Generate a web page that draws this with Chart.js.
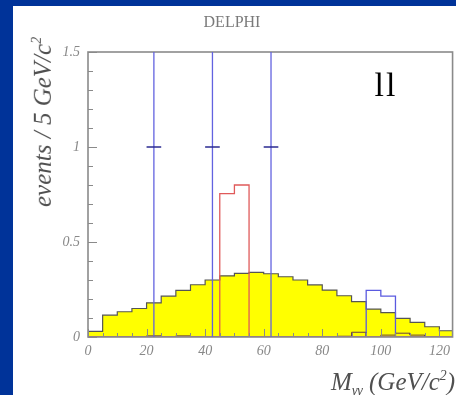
<!DOCTYPE html>
<html>
<head>
<meta charset="utf-8">
<script src="https://cdn.jsdelivr.net/npm/chart.js@4"></script>
<style>
  html, body { margin:0; padding:0; }
  body { background:#003399; width:456px; height:395px; overflow:hidden; position:relative; }
  #panel { position:absolute; left:13px; top:6px; width:443px; height:389px; background:#fff; }
  #c { position:absolute; left:0; top:0; }
  .t { position:absolute; white-space:nowrap; font-family:"Liberation Serif","DejaVu Serif",serif; }
  #delphi { left:219px; top:7px; transform:translateX(-50%); font-size:16px; color:#7a7a7a; line-height:18px; }
  #ll { left:373px; top:62px; transform:translateX(-50%); font-size:34px; color:#000; line-height:34px; letter-spacing:2px; }
  #ytitle { left:27px; top:116px; transform:translate(-50%,-50%) rotate(-90deg); font-size:25px; font-style:italic; color:#505050; line-height:28px; }
  #xtitle { right:1px; top:357px; font-size:25px; font-style:italic; color:#505050; line-height:26px; }
  sup { font-size:0.55em; vertical-align:0.75em; }
  sub { font-size:0.55em; vertical-align:-0.35em; }
</style>
</head>
<body>
<div id="panel">
  <canvas id="c" width="443" height="389"></canvas>
  <div class="t" id="delphi">DELPHI</div>
  <div class="t" id="ll">ll</div>
  <div class="t" id="ytitle">events / 5 GeV/c<sup>2</sup></div>
  <div class="t" id="xtitle">M<sub>γγ</sub> (GeV/c<sup>2</sup>)</div>
</div>
<script>
// ---- data ----
const binLow = [0,5,10,15,20,25,30,35,40,45,50,55,60,65,70,75,80,85,90,95,100,105,110,115,120];
const binWidth = 5;
const yellowValues = [0.03,0.115,0.133,0.15,0.18,0.215,0.245,0.275,0.30,0.322,0.335,0.34,0.333,0.317,0.30,0.274,0.247,0.217,0.186,0.147,0.128,0.098,0.077,0.054,0.033];
const redValues    = [0,0,0,0,0,0,0,0,0,0.755,0.80,0,0,0,0,0,0,0,0,0,0,0,0,0,0];
const blueValues   = [0,0,0,0,0,0,0,0,0,0,0,0,0,0,0,0,0,0,0,0.245,0.215,0,0,0,0];
const otherValues  = [0,0,0,0,0.006,0,0.006,0,0,0,0,0,0,0,0,0,0,0.004,0.025,0,0.01,0.02,0.01,0,0];
const dataX     = [22.5,42.5,62.5];
const dataY     = [1,1,1];
const dataErrLo = [1,1,1];
const dataErrHi = [2.3,2.3,2.3];
const dataErrX  = [2.5,2.5,2.5];
const xTickValues = [0,20,40,60,80,100,120];
const yTickValues = [0,0.5,1,1.5];
const xMinorStep = 5;
const yMinorStep = 0.1;

function histPoints(values){
  const pts = [{x:binLow[0], y:0}];
  for (let i=0;i<values.length;i++){
    pts.push({x:binLow[i], y:values[i]});
    pts.push({x:binLow[i]+binWidth, y:values[i]});
  }
  pts.push({x:binLow[values.length-1]+binWidth, y:0});
  return pts;
}

const framePlugin = {
  id:'frame',
  afterDatasetsDraw(chart){
    const {ctx, chartArea:a, scales:{x, y}} = chart;
    ctx.save();
    ctx.strokeStyle = '#8a8a8a';
    ctx.lineWidth = 1;
    for (let v=0; v<=y.max+1e-9; v+=yMinorStep){
      const vv = Math.round(v*10)/10;
      const major = yTickValues.some(t=>Math.abs(t-vv)<1e-6);
      const py = Math.round(y.getPixelForValue(vv))+0.5;
      ctx.beginPath(); ctx.moveTo(a.left, py); ctx.lineTo(a.left+(major?9:5), py); ctx.stroke();
    }
    for (let v=0; v<=x.max; v+=xMinorStep){
      const major = xTickValues.includes(v);
      const px = Math.round(x.getPixelForValue(v))+0.5;
      ctx.beginPath(); ctx.moveTo(px, a.bottom); ctx.lineTo(px, a.bottom-(major?8:4)); ctx.stroke();
    }
    ctx.lineWidth = 1.6;
    ctx.strokeRect(a.left, a.top, a.right-a.left, a.bottom-a.top);
    ctx.restore();
  }
};

const errorPlugin = {
  id:'errbars',
  afterDatasetsDraw(chart){
    const {ctx, chartArea:a, scales:{x, y}} = chart;
    ctx.save();
    ctx.beginPath(); ctx.rect(a.left, a.top, a.right-a.left, a.bottom-a.top); ctx.clip();
    for (let i=0;i<dataX.length;i++){
      const px = x.getPixelForValue(dataX[i]);
      const py = y.getPixelForValue(dataY[i]);
      ctx.strokeStyle = '#6262e0'; ctx.lineWidth = 1.3;
      ctx.beginPath();
      ctx.moveTo(px, y.getPixelForValue(dataY[i]-dataErrLo[i]));
      ctx.lineTo(px, y.getPixelForValue(dataY[i]+dataErrHi[i]));
      ctx.stroke();
      ctx.strokeStyle = '#2a2a90'; ctx.lineWidth = 1.5;
      ctx.beginPath();
      ctx.moveTo(x.getPixelForValue(dataX[i]-dataErrX[i]), py);
      ctx.lineTo(x.getPixelForValue(dataX[i]+dataErrX[i]), py);
      ctx.stroke();
    }
    ctx.restore();
  }
};

const tickFont = {family:'"Liberation Serif", serif', style:'italic', size:14};

new Chart(document.getElementById('c'), {
  type:'line',
  data:{ datasets:[
    {data:histPoints(blueValues), borderColor:'#5a5ae0', borderWidth:1.3, fill:false, order:2},
    {data:histPoints(redValues), borderColor:'#e05a5a', borderWidth:1.3, fill:false, order:1},
    {data:histPoints(otherValues), borderColor:'#6a4040', borderWidth:1, fill:false, order:3},
    {data:histPoints(yellowValues), borderColor:'#555', borderWidth:1.2, backgroundColor:'#ffff00', fill:'origin', order:4}
  ]},
  options:{
    responsive:false, animation:false, events:[],
    layout:{padding:{left:0, top:46, right:3, bottom:0}},
    plugins:{legend:{display:false}, tooltip:{enabled:false}, title:{display:false}},
    elements:{point:{radius:0}, line:{tension:0}},
    scales:{
      x:{type:'linear', min:0, max:124.5,
         grid:{display:false, drawTicks:false}, border:{display:false},
         afterBuildTicks:s=>{s.ticks = xTickValues.map(v=>({value:v}));},
         afterFit:s=>{s.height = 58;},
         ticks:{padding:6, font:tickFont, color:'#888', maxRotation:0, autoSkip:false, callback:v=>String(v)}},
      y:{type:'linear', min:0, max:1.5,
         grid:{display:false, drawTicks:false}, border:{display:false},
         afterBuildTicks:s=>{s.ticks = yTickValues.map(v=>({value:v}));},
         afterFit:s=>{s.width = 75;},
         ticks:{padding:8, font:tickFont, color:'#888', callback:v=>String(v)}}
    }
  },
  plugins:[framePlugin, errorPlugin]
});
</script>
</body>
</html>
